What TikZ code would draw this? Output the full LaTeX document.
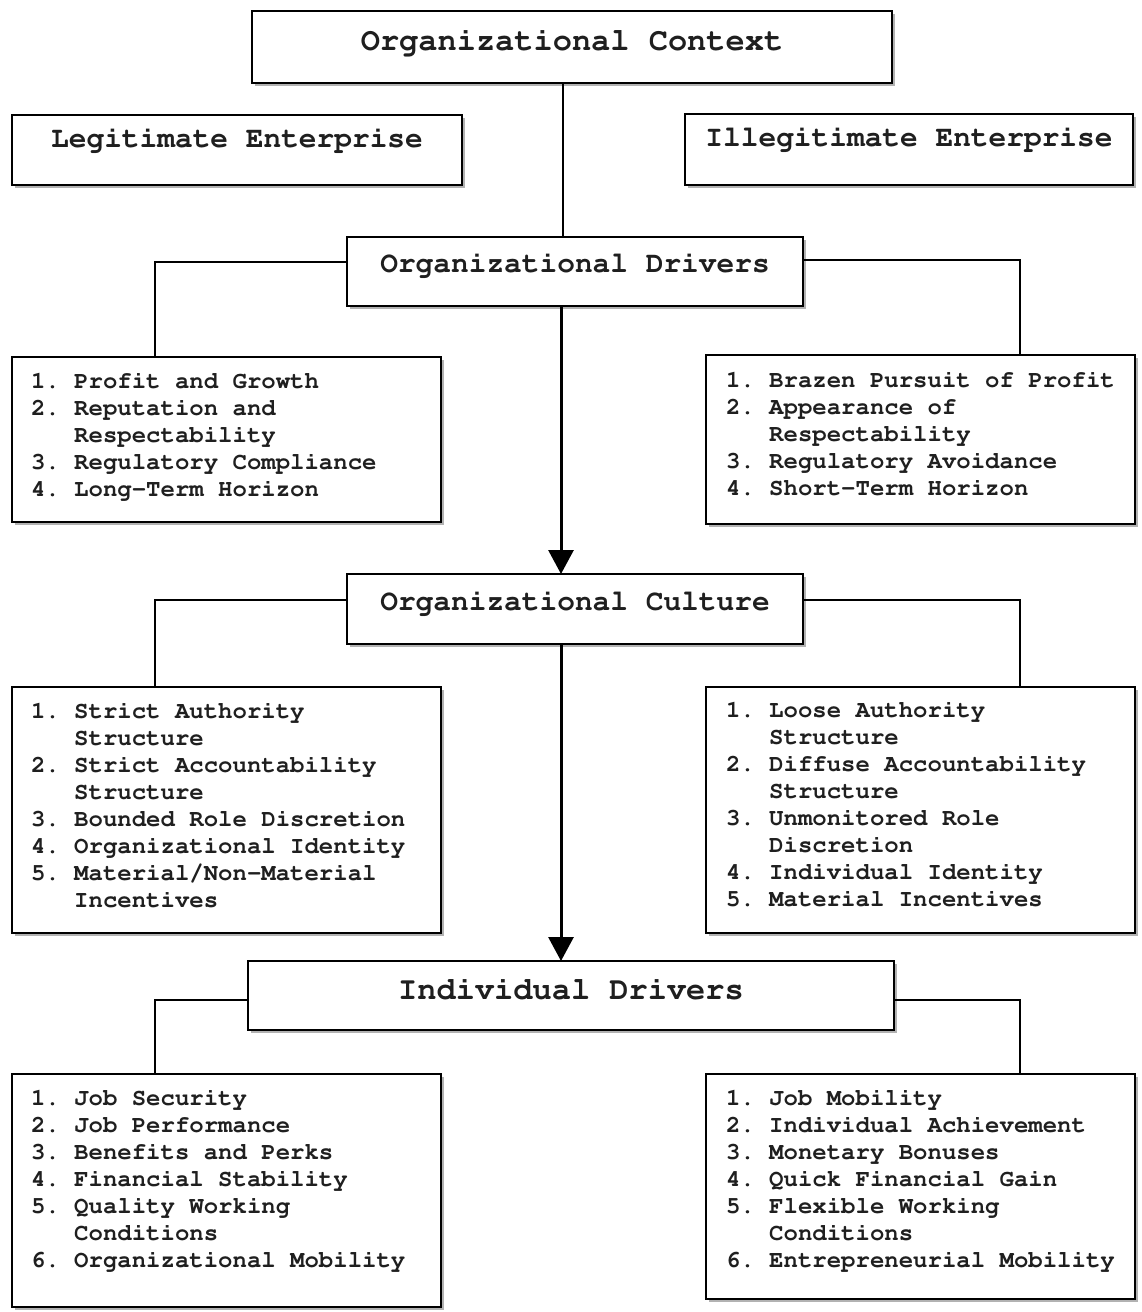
\documentclass[tikz,border=0pt]{standalone}
\usepackage[T1]{fontenc}
\usetikzlibrary{shadows,arrows.meta}
\newcommand{\courb}{\fontencoding{T1}\fontfamily{pcr}\fontseries{b}\fontshape{n}}
\tikzset{
  tbox/.style={draw=black, line width=1.6pt, fill=white, inner sep=0pt, outer sep=0pt,
    anchor=north west, text=black!88,
    drop shadow={shadow xshift=3pt, shadow yshift=-3pt, fill=black!60}},
  tA/.style={font=\courb\fontsize{32}{36}\selectfont},
  tB/.style={font=\courb\fontsize{29.5}{34}\selectfont},
  ltext/.style={inner sep=0pt, outer sep=0pt, anchor=base west, text=black!88,
    font=\courb\fontsize{24}{27}\selectfont\frenchspacing},
  conn/.style={line width=1.6pt},
  arr/.style={line width=3pt, -{Triangle[width=25pt,length=24pt]}},
}
\newcommand{\ind}{\hphantom{0. }}
\begin{document}
\begin{tikzpicture}[x=1pt,y=1pt]
\useasboundingbox (0,0) rectangle (1141,-1312);
\fill[white] (0,0) rectangle (1141,-1312);

% helper coordinates
\coordinate (mx) at (563,0);
\coordinate (ax) at (561,0);
\coordinate (lx) at (155,0);
\coordinate (rx) at (1020,0);

% title boxes
\node[tbox, tA, minimum width=640pt, text height=39pt, text depth=33pt] (ctx) at (252,-11) {Organizational Context};
\node[tbox, tB, minimum width=450pt, text height=32pt, text depth=38pt] (leg) at (12,-115) {Legitimate Enterprise};
\node[tbox, tB, minimum width=448pt, text height=32pt, text depth=39pt] (ill) at (685,-114) {Illegitimate Enterprise};
\node[tbox, tB, minimum width=456pt, text height=35pt, text depth=34pt] (drv) at (347,-237) {Organizational Drivers};
\node[tbox, tB, minimum width=456pt, text height=36pt, text depth=34pt] (cul) at (347,-574) {Organizational Culture};
\node[tbox, tA, minimum width=646pt, text height=38pt, text depth=31pt] (ind) at (248,-961) {Individual Drivers};

% list boxes
\node[tbox, minimum width=429pt, minimum height=165pt] (l1) at (12,-357) {};
\node[tbox, minimum width=429pt, minimum height=169pt] (r1) at (706,-355) {};
\node[tbox, minimum width=429pt, minimum height=246pt] (l2) at (12,-687) {};
\node[tbox, minimum width=429pt, minimum height=246pt] (r2) at (706,-687) {};
\node[tbox, minimum width=429pt, minimum height=233pt] (l3) at (12,-1074) {};
\node[tbox, minimum width=429pt, minimum height=225pt] (r3) at (706,-1074) {};

% list texts
\node[ltext] (l1t) at (31,-388) {\vtop{%
  \hbox{1. Profit and Growth}%
  \hbox{2. Reputation and}%
  \hbox{\ind Respectability}%
  \hbox{3. Regulatory Compliance}%
  \hbox{4. Long-Term Horizon}}};
\node[ltext] (r1t) at (726,-387) {\vtop{%
  \hbox{1. Brazen Pursuit of Profit}%
  \hbox{2. Appearance of}%
  \hbox{\ind Respectability}%
  \hbox{3. Regulatory Avoidance}%
  \hbox{4. Short-Term Horizon}}};
\node[ltext] (l2t) at (31,-718) {\vtop{%
  \hbox{1. Strict Authority}%
  \hbox{\ind Structure}%
  \hbox{2. Strict Accountability}%
  \hbox{\ind Structure}%
  \hbox{3. Bounded Role Discretion}%
  \hbox{4. Organizational Identity}%
  \hbox{5. Material/Non-Material}%
  \hbox{\ind Incentives}}};
\node[ltext] (r2t) at (726,-717) {\vtop{%
  \hbox{1. Loose Authority}%
  \hbox{\ind Structure}%
  \hbox{2. Diffuse Accountability}%
  \hbox{\ind Structure}%
  \hbox{3. Unmonitored Role}%
  \hbox{\ind Discretion}%
  \hbox{4. Individual Identity}%
  \hbox{5. Material Incentives}}};
\node[ltext] (l3t) at (31,-1105) {\vtop{%
  \hbox{1. Job Security}%
  \hbox{2. Job Performance}%
  \hbox{3. Benefits and Perks}%
  \hbox{4. Financial Stability}%
  \hbox{5. Quality Working}%
  \hbox{\ind Conditions}%
  \hbox{6. Organizational Mobility}}};
\node[ltext] (r3t) at (726,-1105) {\vtop{%
  \hbox{1. Job Mobility}%
  \hbox{2. Individual Achievement}%
  \hbox{3. Monetary Bonuses}%
  \hbox{4. Quick Financial Gain}%
  \hbox{5. Flexible Working}%
  \hbox{\ind Conditions}%
  \hbox{6. Entrepreneurial Mobility}}};

% connectors
\draw[conn] (ctx.south -| mx) -- (drv.north -| mx);
\draw[conn] ([yshift=9.5pt]drv.west) -| (l1.north -| lx);
\draw[conn] ([yshift=11.5pt]drv.east) -| (r1.north -| rx);
\draw[conn] ([yshift=9pt]cul.west) -| (l2.north -| lx);
\draw[conn] ([yshift=9pt]cul.east) -| (r2.north -| rx);
\draw[conn] ([yshift=-4.5pt]ind.west) -| (l3.north -| lx);
\draw[conn] ([yshift=-4.5pt]ind.east) -| (r3.north -| rx);
\draw[arr] (drv.south -| ax) -- (cul.north -| ax);
\draw[arr] (cul.south -| ax) -- (ind.north -| ax);
\end{tikzpicture}
\end{document}
